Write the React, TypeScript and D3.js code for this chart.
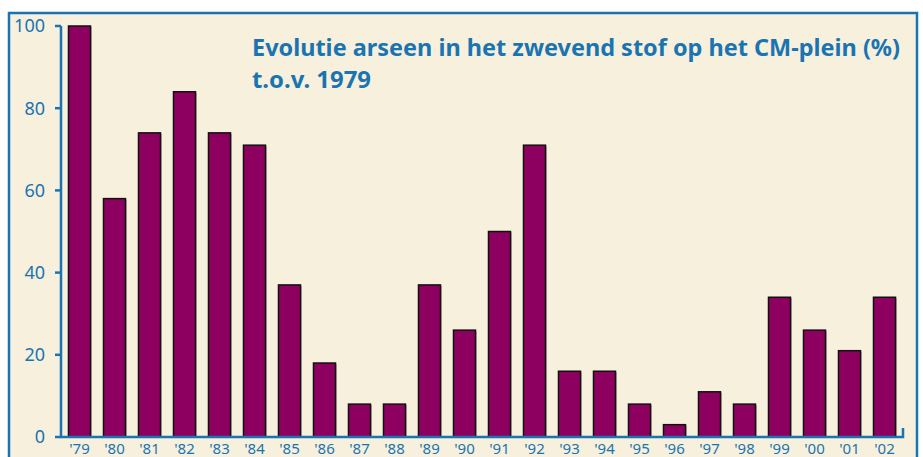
import React from "react";
import * as d3 from "d3";

const years = ["'79","'80","'81","'82","'83","'84","'85","'86","'87","'88","'89","'90","'91","'92","'93","'94","'95","'96","'97","'98","'99","'00","'01","'02"];
const values = [100, 58, 74, 84, 74, 71, 37, 18, 8, 8, 37, 26, 50, 71, 16, 16, 8, 3, 11, 8, 34, 26, 21, 34];
const yTicks = [0, 20, 40, 60, 80, 100];
const titleLines = ["Evolutie arseen in het zwevend stof op het CM-plein (%)", "t.o.v. 1979"];

const W = 923, H = 457;
const BLUE = "#1b74b2";
const BAR = "#8d0060";
const BG = "#f6f0dc";

export default function App() {
  const x = d3.scaleBand<string>().domain(years).range([61, 903]).paddingInner(0.371).paddingOuter(0.214);
  const y = d3.scaleLinear().domain([0, 100]).range([437, 26]);
  const font = "'Noto Sans', 'Open Sans', sans-serif";
  return (
    <svg width={W} height={H} style={{ position: "absolute", left: 0, top: 0 }} fontFamily={font}>
      <rect x={0} y={0} width={W} height={H} fill="#ffffff" />
      <rect x={9} y={13} width={908} height={470} fill={BG} stroke={BLUE} strokeWidth={2.5} />
      {values.map((v, i) => (
        <g key={years[i]}>
          <rect x={(x(years[i]) as number) + 1.5} y={y(v) + 1} width={x.bandwidth()} height={y(0) - y(v)} fill="#5a5040" opacity={0.35} />
          <rect x={x(years[i])} y={y(v)} width={x.bandwidth()} height={y(0) - y(v)} fill={BAR} stroke="#111" strokeWidth={1.5} />
        </g>
      ))}
      <path d={`M61,${y(100)} V${y(0)} H903 V${y(0) - 9}`} fill="none" stroke={BLUE} strokeWidth={2.5} />
      {yTicks.map((t) => (
        <g key={t}>
          <line x1={55} x2={61} y1={y(t)} y2={y(t)} stroke={BLUE} strokeWidth={2.5} />
          <text x={45} y={y(t)} dy="0.35em" textAnchor="end" fill={BLUE} fontSize={18}>{t}</text>
        </g>
      ))}
      {years.map((yr) => (
        <text key={yr} x={(x(yr) as number) + x.bandwidth() / 2} y={454} textAnchor="middle" fill={BLUE} fontSize={15}>{yr}</text>
      ))}
      <text x={252} y={56} fill={BLUE} fontSize={23} fontWeight="bold" textLength={648} lengthAdjust="spacingAndGlyphs">{titleLines[0]}</text>
      <text x={252} y={88} fill={BLUE} fontSize={23} fontWeight="bold" textLength={119} lengthAdjust="spacingAndGlyphs">{titleLines[1]}</text>
    </svg>
  );
}
